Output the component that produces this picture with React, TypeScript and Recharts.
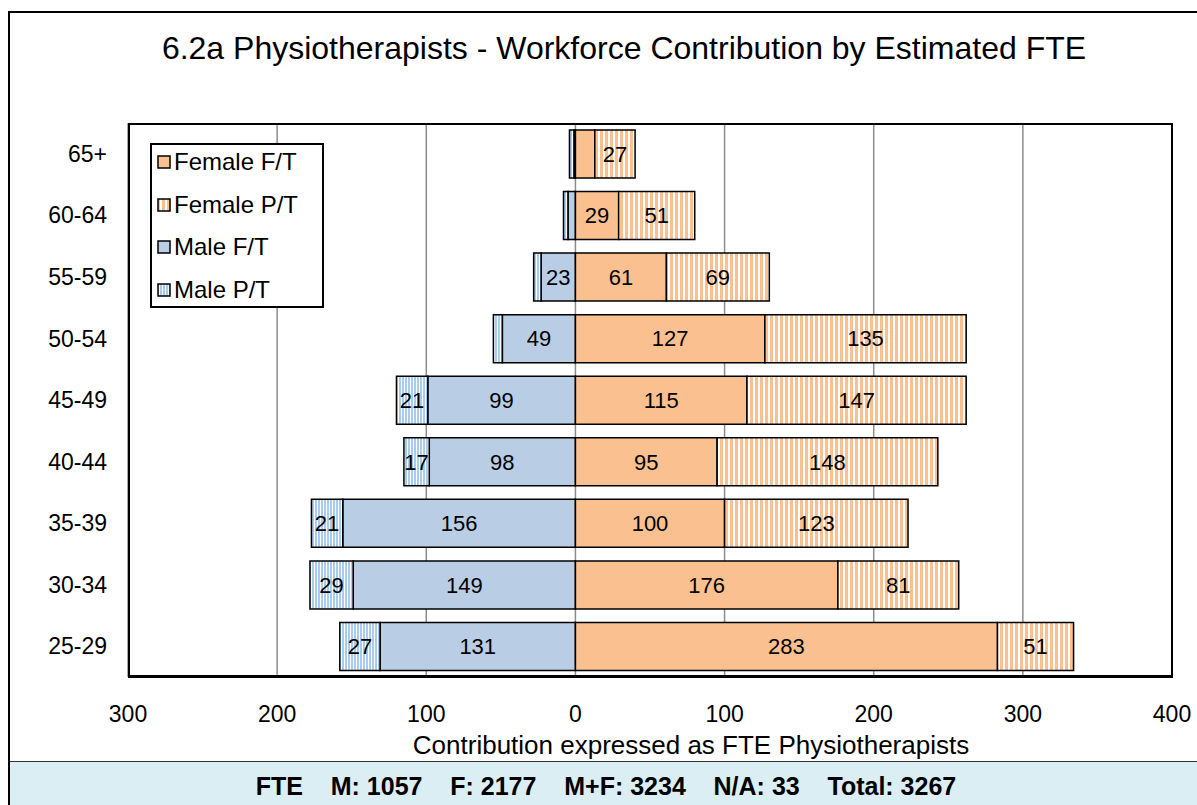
import React from 'react';
import { BarChart, Bar, XAxis, YAxis, CartesianGrid, LabelList } from 'recharts';

// Age bands, top to bottom as in the chart
const ageGroups = ['65+', '60-64', '55-59', '50-54', '45-49', '40-44', '35-39', '30-34', '25-29'];

// Estimated FTE per segment (male values are drawn to the left)
const maleFT = [1, 5, 23, 49, 99, 98, 156, 149, 131];
const malePT = [3, 3, 5, 6, 21, 17, 21, 29, 27];
const femaleFT = [13, 29, 61, 127, 115, 95, 100, 176, 283];
const femalePT = [27, 51, 69, 135, 147, 148, 123, 81, 51];

const xTicks = [-300, -200, -100, 0, 100, 200, 300, 400];

const FONT = '"Liberation Sans", Arial, sans-serif';

const ORANGE = '#FAC090';
const BLUE = '#B9CDE5';

const tableData = ageGroups.map((age, i) => ({
  age,
  maleFT: -maleFT[i],
  malePT: -malePT[i],
  femaleFT: femaleFT[i],
  femalePT: femalePT[i],
}));

const legendItems = [
  { name: 'Female F/T', fill: ORANGE },
  { name: 'Female P/T', fill: 'url(#stripeOrange)' },
  { name: 'Male F/T', fill: BLUE },
  { name: 'Male P/T', fill: 'url(#stripeBlue)' },
];

// only label segments wide enough to hold the number
const fmtLabel = (v: any) => {
  const n = Math.abs(Number(v));
  return n >= 15 ? String(n) : '';
};

const labelStyle = { fontSize: 22, fill: '#000', fontFamily: FONT };

const App: React.FC = () => {
  return (
    <div style={{ position: 'absolute', left: 0, top: 0, width: 1197, height: 805, overflow: 'hidden', fontFamily: FONT, background: '#fff' }}>
      <svg width={0} height={0} style={{ position: 'absolute' }}>
        <defs>
          <pattern id="stripeOrange" patternUnits="userSpaceOnUse" width={5} height={10}>
            <rect x={0} y={0} width={5} height={10} fill="#fff" />
            <rect x={0} y={0} width={3} height={10} fill={ORANGE} />
          </pattern>
          <pattern id="stripeBlue" patternUnits="userSpaceOnUse" width={3} height={10}>
            <rect x={0} y={0} width={3} height={10} fill="#fff" />
            <rect x={0} y={0} width={2} height={10} fill="#A9CBF0" />
          </pattern>
        </defs>
      </svg>

      {/* outer frame */}
      <div style={{ position: 'absolute', left: 8, top: 11, width: 1200, height: 800, border: '2px solid #000', boxSizing: 'border-box' }} />

      <div style={{ position: 'absolute', left: 0, top: 30, width: 1248, textAlign: 'center', fontSize: 32, color: '#000' }}>
        6.2a Physiotherapists - Workforce Contribution by Estimated FTE
      </div>

      <div style={{ position: 'absolute', left: 0, top: 0 }}>
        <BarChart
          width={1197}
          height={761}
          data={tableData}
          layout="vertical"
          stackOffset="sign"
          barSize={48}
          margin={{ top: 123, right: 25, bottom: 24, left: 0 }}
        >
          <CartesianGrid horizontal={false} stroke="#8c8c8c" strokeWidth={1.5} />
          <XAxis
            type="number"
            domain={[-300, 400]}
            ticks={xTicks}
            tickFormatter={(v: number) => String(Math.abs(v))}
            tickLine={false}
            axisLine={false}
            tickSize={0}
            tickMargin={29}
            height={60}
            tick={{ fontSize: 23, fill: '#000', fontFamily: FONT }}
            interval={0}
          />
          <YAxis
            type="category"
            dataKey="age"
            width={128}
            tickLine={false}
            axisLine={false}
            tickSize={0}
            tickMargin={21}
            tick={{ fontSize: 23, fill: '#000', fontFamily: FONT }}
            interval={0}
          />
          <Bar dataKey="maleFT" stackId="a" fill={BLUE} stroke="#000" strokeWidth={1.5} isAnimationActive={false}>
            <LabelList dataKey="maleFT" position="center" formatter={fmtLabel} style={labelStyle} />
          </Bar>
          <Bar dataKey="malePT" stackId="a" fill="url(#stripeBlue)" stroke="#000" strokeWidth={1.5} isAnimationActive={false}>
            <LabelList dataKey="malePT" position="center" formatter={fmtLabel} style={labelStyle} />
          </Bar>
          <Bar dataKey="femaleFT" stackId="a" fill={ORANGE} stroke="#000" strokeWidth={1.5} isAnimationActive={false}>
            <LabelList dataKey="femaleFT" position="center" formatter={fmtLabel} style={labelStyle} />
          </Bar>
          <Bar dataKey="femalePT" stackId="a" fill="url(#stripeOrange)" stroke="#000" strokeWidth={1.5} isAnimationActive={false}>
            <LabelList dataKey="femalePT" position="center" formatter={fmtLabel} style={labelStyle} />
          </Bar>
        </BarChart>
      </div>

      {/* plot area border */}
      <div style={{ position: 'absolute', left: 128, top: 123, width: 1045, height: 555, borderTop: '2px solid #000', borderLeft: '2px solid #000', borderRight: '2px solid #000', borderBottom: '3px solid #000', boxSizing: 'border-box', pointerEvents: 'none' }} />

      {/* legend */}
      <div style={{ position: 'absolute', left: 150, top: 143, width: 174, height: 165, border: '2px solid #000', background: '#fff', boxSizing: 'border-box', paddingLeft: 5, overflow: 'hidden' }}>
        {legendItems.map((it) => (
          <div key={it.name} style={{ display: 'flex', alignItems: 'center', height: 42.5, fontSize: 24, color: '#000', lineHeight: 1, marginTop: it.name === 'Female F/T' ? -4 : 0 }}>
            <svg width={14} height={14} style={{ marginRight: 3, flex: 'none' }}>
              <rect x={1} y={1} width={12} height={12} fill={it.fill} stroke="#000" strokeWidth={1.5} />
            </svg>
            <span style={{ whiteSpace: 'nowrap' }}>{it.name}</span>
          </div>
        ))}
      </div>

      <div style={{ position: 'absolute', left: 0, top: 730, width: 1382, textAlign: 'center', fontSize: 26, color: '#000' }}>
        Contribution expressed as FTE Physiotherapists
      </div>

      {/* totals band */}
      <div style={{ position: 'absolute', left: 10, top: 761, width: 1200, height: 50, background: '#DAEEF3', borderTop: '1.5px solid #333' }} />
      <div style={{ position: 'absolute', left: 0, top: 772, width: 1212, textAlign: 'center', fontSize: 25, fontWeight: 'bold', color: '#000', whiteSpace: 'pre' }}>
        {'FTE    M: 1057    F: 2177    M+F: 3234    N/A: 33    Total: 3267'}
      </div>
    </div>
  );
};

export default App;
